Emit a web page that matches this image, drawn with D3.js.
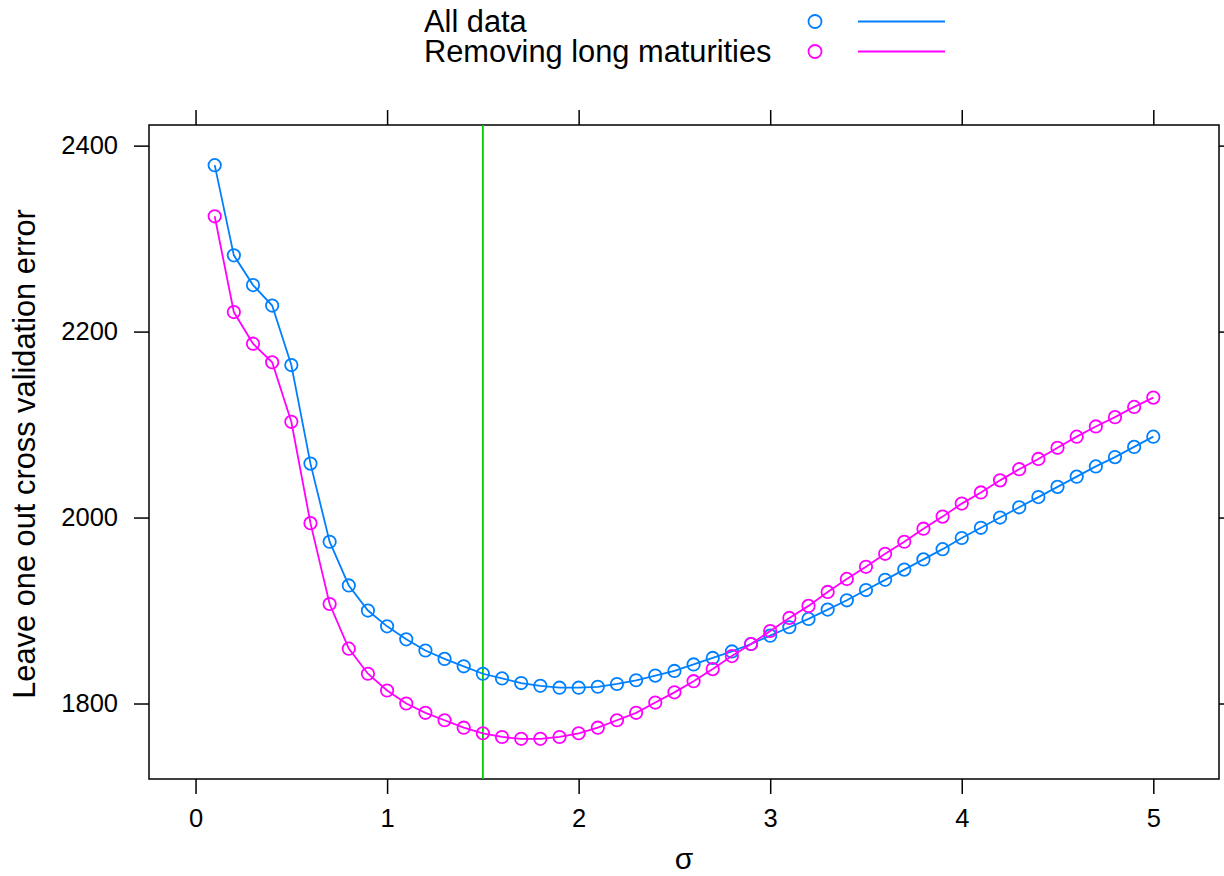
<!DOCTYPE html>
<html>
<head>
<meta charset="utf-8">
<script src="https://cdn.jsdelivr.net/npm/d3@7"></script>
<style>
  body { margin: 0; background: #fff; }
  svg { display: block; }
  text { font-family: "Liberation Sans", Arial, Helvetica, sans-serif; fill: #000; }
</style>
</head>
<body>
<svg id="chart" width="1224" height="876"></svg>
<script>
// sigma values on the x axis
const sigma = [0.1, 0.2, 0.3, 0.4, 0.5, 0.6, 0.7, 0.8, 0.9, 1.0,
  1.1, 1.2, 1.3, 1.4, 1.5, 1.6, 1.7, 1.8, 1.9, 2.0,
  2.1, 2.2, 2.3, 2.4, 2.5, 2.6, 2.7, 2.8, 2.9, 3.0,
  3.1, 3.2, 3.3, 3.4, 3.5, 3.6, 3.7, 3.8, 3.9, 4.0,
  4.1, 4.2, 4.3, 4.4, 4.5, 4.6, 4.7, 4.8, 4.9, 5.0]

// leave one out CV error, all data
const allData = [2379, 2282, 2250, 2228, 2164, 2058, 1974, 1927, 1900, 1883,
  1869, 1857, 1848, 1840, 1832, 1827, 1822, 1819, 1817, 1817,
  1818, 1821, 1825, 1830, 1835, 1842, 1849, 1856, 1864, 1873,
  1882, 1891, 1901, 1911, 1922, 1933, 1944, 1955, 1966, 1978,
  1989, 2000, 2011, 2022, 2033, 2044, 2055, 2065, 2076, 2087]

// removing long maturities
const noLong = [2324, 2221, 2187, 2167, 2103, 1994, 1907, 1859, 1832, 1814,
  1800, 1790, 1782, 1774, 1768, 1764, 1762, 1762, 1764, 1768,
  1774, 1782, 1790, 1801, 1812, 1824, 1837, 1851, 1864, 1878,
  1892, 1905, 1920, 1934, 1947, 1961, 1974, 1988, 2001, 2015,
  2027, 2040, 2052, 2063, 2075, 2087, 2098, 2108, 2119, 2129]

const seriesNames = ["All data", "Removing long maturities"]
const seriesColors = ["#0080ff", "#ff00ff"]
const xTicks = [0, 1, 2, 3, 4, 5]
const yTicks = [1800, 2000, 2200, 2400]
const chosenSigma = 1.5

var margin = { left: 149, right: 5, top: 125, bottom: 97 }
var width = 1224, height = 876
var svg = d3.select('#chart')

// lattice style: pad the data range by 7% on each side
function padded(ext) {
  var d = (ext[1] - ext[0]) * 0.07
  return [ext[0] - d, ext[1] + d]
}

var x = d3.scaleLinear()
  .domain(padded(d3.extent(sigma)))
  .range([margin.left, width - margin.right])

var y = d3.scaleLinear()
  .domain(padded(d3.extent(allData.concat(noLong))))
  .range([height - margin.bottom, margin.top])

var series = [allData, noLong].map(function (vals, i) {
  return { name: seriesNames[i], color: seriesColors[i], points: sigma.map((s, j) => [s, vals[j]]) }
})

var tickLen = 15

// axes (ticks on all four sides, labels bottom and left)
var gB = svg.append('g')
  .attr('transform', 'translate(0,' + y.range()[0] + ')')
  .call(d3.axisBottom(x).tickValues(xTicks).tickSize(tickLen).tickFormat(d3.format('d')))
var gT = svg.append('g')
  .attr('transform', 'translate(0,' + y.range()[1] + ')')
  .call(d3.axisTop(x).tickValues(xTicks).tickSize(tickLen).tickFormat(''))
var gL = svg.append('g')
  .attr('transform', 'translate(' + x.range()[0] + ',0)')
  .call(d3.axisLeft(y).tickValues(yTicks).tickSize(tickLen).tickPadding(16).tickFormat(d3.format('d')))
var gR = svg.append('g')
  .attr('transform', 'translate(' + x.range()[1] + ',0)')
  .call(d3.axisRight(y).tickValues(yTicks).tickSize(tickLen).tickFormat(''))

;[gB, gT, gL, gR].forEach(function (g) {
  g.select('.domain').remove()
  g.selectAll('.tick line').attr('stroke', '#000').attr('stroke-width', 1.5)
  g.selectAll('.tick text')
    .style('font-family', '"Liberation Sans", Arial, sans-serif')
    .style('font-size', '25.5px')
    .attr('fill', '#000')
})
gB.selectAll('.tick text').attr('dy', '0.71em').attr('y', tickLen + 15)

// panel border
svg.append('rect')
  .attr('x', x.range()[0])
  .attr('y', y.range()[1])
  .attr('width', x.range()[1] - x.range()[0])
  .attr('height', y.range()[0] - y.range()[1])
  .attr('fill', 'none')
  .attr('stroke', '#000')
  .attr('stroke-width', 1.5)

// vertical reference line at chosen sigma
svg.append('line')
  .attr('x1', x(chosenSigma)).attr('x2', x(chosenSigma))
  .attr('y1', y.range()[1]).attr('y2', y.range()[0])
  .attr('stroke', '#00cc00')
  .attr('stroke-width', 1.8)

var line = d3.line().x(d => x(d[0])).y(d => y(d[1]))

var gS = svg.selectAll('.series')
  .data(series)
  .enter()
  .append('g')
  .attr('class', 'series')

gS.append('path')
  .attr('d', d => line(d.points))
  .attr('fill', 'none')
  .attr('stroke', d => d.color)
  .attr('stroke-width', 1.8)

gS.each(function (s) {
  d3.select(this).selectAll('circle')
    .data(s.points)
    .enter()
    .append('circle')
    .attr('cx', d => x(d[0]))
    .attr('cy', d => y(d[1]))
    .attr('r', 6.2)
    .attr('fill', 'none')
    .attr('stroke', s.color)
    .attr('stroke-width', 1.8)
})

// axis titles
svg.append('text')
  .attr('transform', 'translate(35,' + ((y.range()[0] + y.range()[1]) / 2 + 2) + ') rotate(-90)')
  .attr('text-anchor', 'middle')
  .style('font-size', '30.8px')
  .text('Leave one out cross validation error')

svg.append('text')
  .attr('x', (x.range()[0] + x.range()[1]) / 2)
  .attr('y', 869)
  .attr('text-anchor', 'middle')
  .style('font-size', '30px')
  .text('σ')

// legend
var legend = svg.append('g')
series.forEach(function (s, i) {
  var cy = 21.5 + i * 30
  legend.append('text')
    .attr('x', 424)
    .attr('y', cy + 10.5)
    .style('font-size', '30.8px')
    .text(s.name)
  legend.append('circle')
    .attr('cx', 815).attr('cy', cy)
    .attr('r', 6.5)
    .attr('fill', 'none')
    .attr('stroke', s.color)
    .attr('stroke-width', 1.8)
  legend.append('line')
    .attr('x1', 858).attr('x2', 945)
    .attr('y1', cy).attr('y2', cy)
    .attr('stroke', s.color)
    .attr('stroke-width', 1.8)
})
</script>
</body>
</html>
